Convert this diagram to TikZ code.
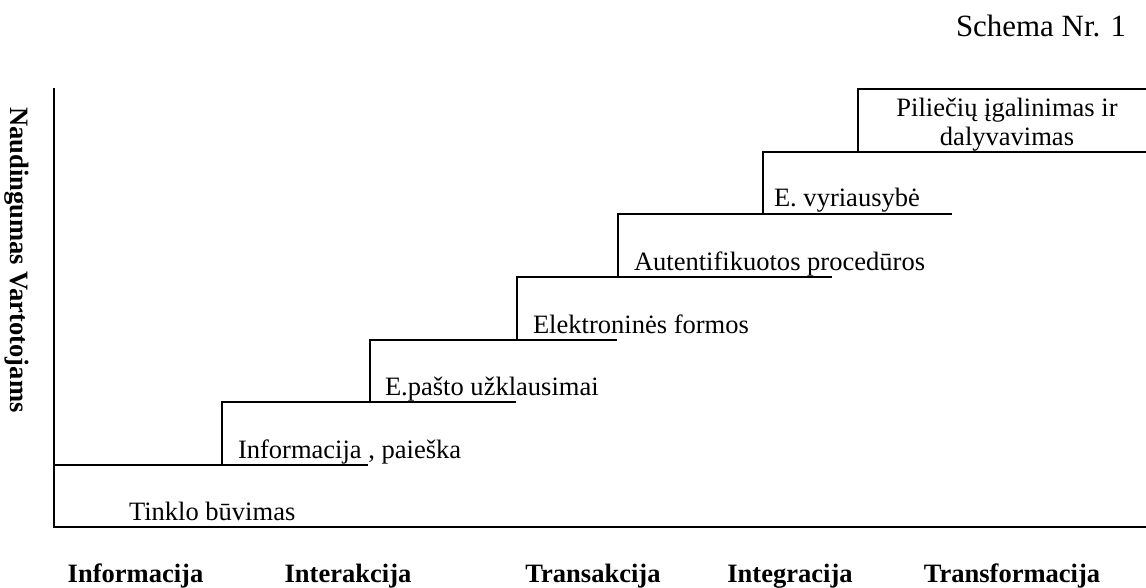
\documentclass[tikz,border=0pt]{standalone}
\usepackage{fontspec}
\setmainfont{Liberation Serif}

\tikzset{every picture/.style={line width=1.5pt}}
\tikzset{
  steplabel/.style={anchor=base west, inner sep=0pt, font=\fontsize{19.9}{23}\selectfont},
  stagelabel/.style={anchor=base, inner sep=0pt, font=\fontsize{19.9}{23}\selectfont\bfseries}
}

\begin{document}
\begin{tikzpicture}[x=0.75pt,y=0.75pt,yscale=-1,xscale=1]
\useasboundingbox (0,0) rectangle (1146,588);

%Axes
\coordinate (axtop) at (54,88);
\coordinate (origin) at (54,527);
\coordinate (axright) at (1146,527);
\draw (axtop) -- (origin) -- (axright);

%Step 0
\draw (54,465) -- (368,465);
%Step 1
\draw (222,465) -- (222,402) -- (516,402);
%Step 2
\draw (370,402) -- (370,340) -- (617,340);
%Step 3
\draw (517,340) -- (517,277) -- (832,277);
%Step 4
\draw (618,277) -- (618,214) -- (952,214);
%Step 5
\draw (763,214) -- (763,152) -- (1146,152);
%Step 6
\draw (858,152) -- (858,89) -- (1146,89);

% Text Node
\node[anchor=base west, inner sep=0pt, font=\fontsize{23.2}{27}\selectfont] (schema) at (955,37) {Schema Nr. 1};
% Text Node
\node[rotate=-90, inner sep=0pt, font=\fontsize{19.9}{23}\selectfont\bfseries] (naudingumas) at (17,260) {Naudingumas Vartotojams};

% Text Node
\node[steplabel] (tinklas) at (128,520) {Tinklo būvimas};
% Text Node
\node[steplabel] (paieska) at (237,458) {Informacija , paieška};
% Text Node
\node[steplabel] (pastas) at (384,395) {E.pašto užklausimai};
% Text Node
\node[steplabel] (formos) at (532,333) {Elektroninės formos};
% Text Node
\node[steplabel] (proceduros) at (633,270) {Autentifikuotos procedūros};
% Text Node
\node[steplabel] (vyriausybe) at (773,207) {E. vyriausybė};
% Text Node
\node[anchor=base, inner sep=0pt, align=center, font=\fontsize{19.9}{21.75}\selectfont] (piliedalyv) at (1007,146) {Piliečių įgalinimas ir\\dalyvavimas};

% Text Node
\node[stagelabel] (informacija) at (135.5,582) {Informacija};
% Text Node
\node[stagelabel] (interakcija) at (348,582) {Interakcija};
% Text Node
\node[stagelabel] (transakcija) at (593,582) {Transakcija};
% Text Node
\node[stagelabel] (integracija) at (790,582) {Integracija};
% Text Node
\node[stagelabel] (transformacija) at (1012,582) {Transformacija};

\end{tikzpicture}
\end{document}
